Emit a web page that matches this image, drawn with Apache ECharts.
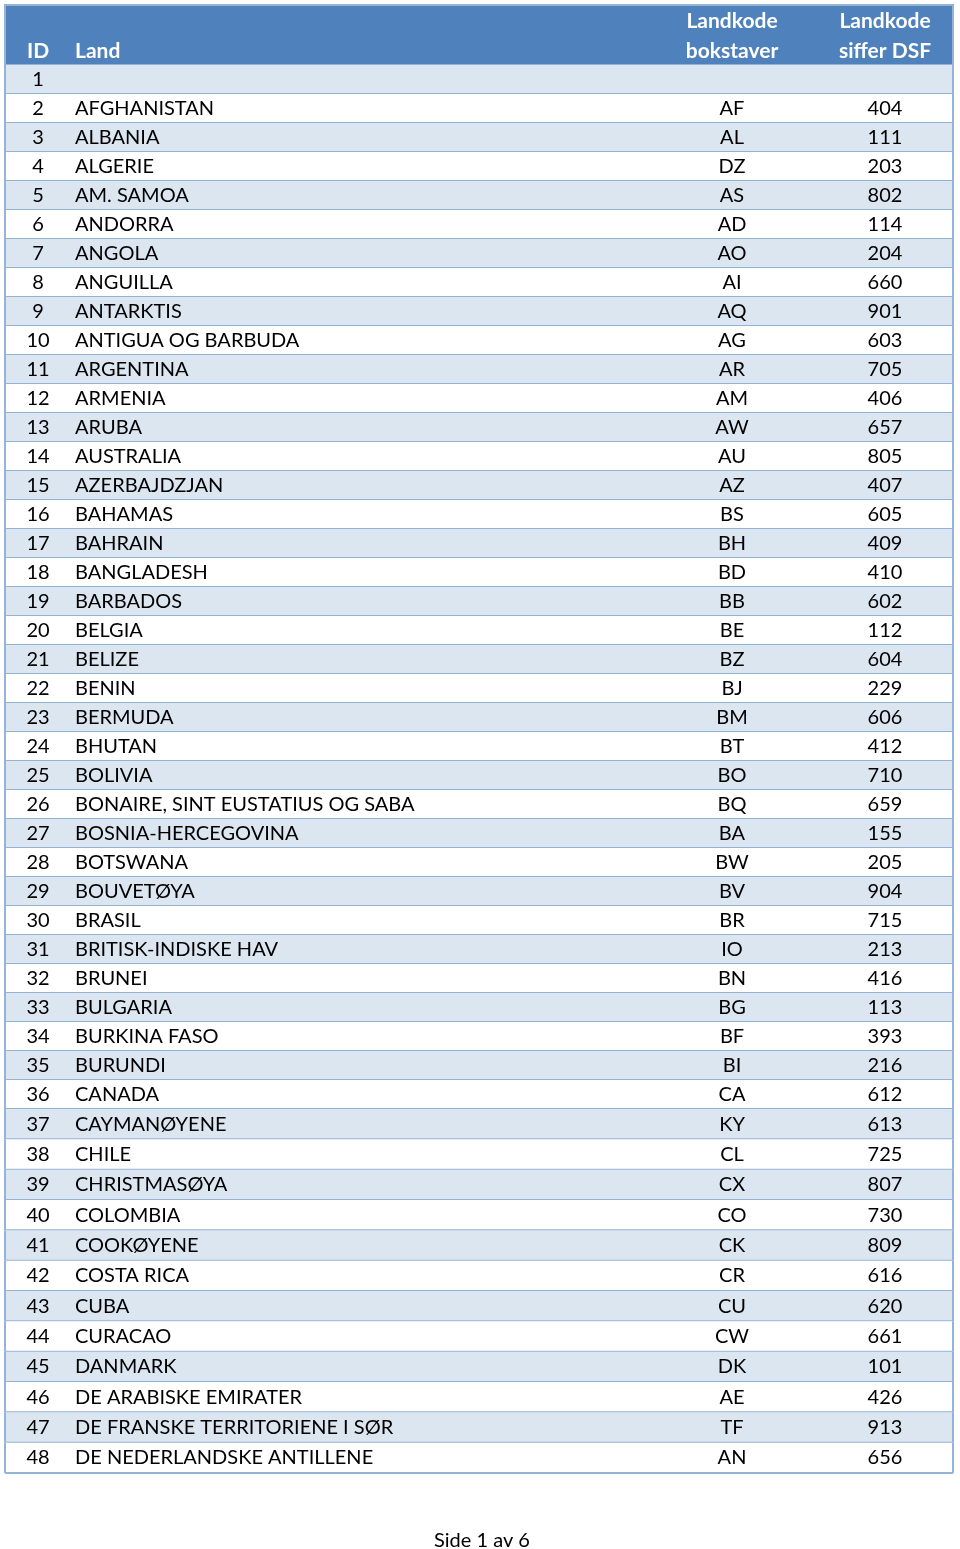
<!DOCTYPE html>
<html><head><meta charset="utf-8">
<script src="https://cdn.jsdelivr.net/npm/echarts@6/dist/echarts.min.js"></script>
<style>html,body{margin:0;padding:0;background:#fff}#c{width:960px;height:1549px}</style>
</head><body><div id="c"></div>
<script>
const ids = [1,2,3,4,5,6,7,8,9,10,11,12,13,14,15,16,17,18,19,20,21,22,23,24,25,26,27,28,29,30,31,32,33,34,35,36,37,38,39,40,41,42,43,44,45,46,47,48];
const lands = ["", "AFGHANISTAN","ALBANIA","ALGERIE","AM. SAMOA","ANDORRA","ANGOLA","ANGUILLA","ANTARKTIS","ANTIGUA OG BARBUDA","ARGENTINA","ARMENIA","ARUBA","AUSTRALIA","AZERBAJDZJAN","BAHAMAS","BAHRAIN","BANGLADESH","BARBADOS","BELGIA","BELIZE","BENIN","BERMUDA","BHUTAN","BOLIVIA","BONAIRE, SINT EUSTATIUS OG SABA","BOSNIA-HERCEGOVINA","BOTSWANA","BOUVETØYA","BRASIL","BRITISK-INDISKE HAV","BRUNEI","BULGARIA","BURKINA FASO","BURUNDI","CANADA","CAYMANØYENE","CHILE","CHRISTMASØYA","COLOMBIA","COOKØYENE","COSTA RICA","CUBA","CURACAO","DANMARK","DE ARABISKE EMIRATER","DE FRANSKE TERRITORIENE I SØR","DE NEDERLANDSKE ANTILLENE"];
const codes = ["", "AF","AL","DZ","AS","AD","AO","AI","AQ","AG","AR","AM","AW","AU","AZ","BS","BH","BD","BB","BE","BZ","BJ","BM","BT","BO","BQ","BA","BW","BV","BR","IO","BN","BG","BF","BI","CA","KY","CL","CX","CO","CK","CR","CU","CW","DK","AE","TF","AN"];
const dsf = ["", "404","111","203","802","114","204","660","901","603","705","406","657","805","407","605","409","410","602","112","604","229","606","412","710","659","155","205","904","715","213","416","113","393","216","612","613","725","807","730","809","616","620","661","101","426","913","656"];
const headers = ["ID","Land","Landkode\nbokstaver","Landkode\nsiffer DSF"];
const footer = "Side 1 av 6";

const FONT = 'Lato';
const splitAt = 36;
const chart = echarts.init(document.getElementById('c'));

function makeRender(offset){
  return function(params, api){
    const i = offset + params.dataIndex;
    const cs = params.coordSys;
    const c = api.coord([0, api.value(1)]);
    const h = api.size([0,1])[1];
    const top = c[1] - h/2;
    const x0 = cs.x, w = cs.width;
    const cy = c[1];
    const ts = {fill:'#000', font: '20px ' + FONT, textVerticalAlign:'middle'};
    return {type:'group', children:[
      {type:'rect', shape:{x:x0, y:top, width:w, height:h}, style:{fill: (ids[i] % 2 === 1) ? '#DCE6F1' : '#FFFFFF'}},
      {type:'line', shape:{x1:x0, y1:top+h, x2:x0+w, y2:top+h}, style:{stroke:'#95B3D7', lineWidth:2}},
      {type:'line', shape:{x1:x0, y1:top, x2:x0, y2:top+h}, style:{stroke:'#95B3D7', lineWidth:2}},
      {type:'line', shape:{x1:x0+w, y1:top, x2:x0+w, y2:top+h}, style:{stroke:'#95B3D7', lineWidth:2}},
      {type:'text', style:Object.assign({text:String(ids[i]), x:x0+33, y:cy, textAlign:'center'}, ts)},
      {type:'text', style:Object.assign({text:lands[i], x:x0+70, y:cy, textAlign:'left'}, ts)},
      {type:'text', style:Object.assign({text:codes[i], x:x0+727, y:cy, textAlign:'center'}, ts)},
      {type:'text', style:Object.assign({text:dsf[i], x:x0+880, y:cy, textAlign:'center'}, ts)}
    ]};
  };
}

const part1 = ids.slice(0, splitAt), part2 = ids.slice(splitAt);
const hdrStyle = {fill:'#fff', font:'bold 21px ' + FONT, textVerticalAlign:'middle'};
const hl = headers.map(s => s.split('\n'));

chart.setOption({
  animation:false,
  grid:[
    {left:5, top:65, width:948, height:1044},
    {left:5, top:1109, width:948, height:364}
  ],
  xAxis:[
    {gridIndex:0, type:'value', min:0, max:1, show:false},
    {gridIndex:1, type:'value', min:0, max:1, show:false}
  ],
  yAxis:[
    {gridIndex:0, type:'category', inverse:true, data:part1.map(String), show:false},
    {gridIndex:1, type:'category', inverse:true, data:part2.map(String), show:false}
  ],
  series:[
    {type:'custom', xAxisIndex:0, yAxisIndex:0, renderItem:makeRender(0), data:part1.map((v,k)=>[0,k])},
    {type:'custom', xAxisIndex:1, yAxisIndex:1, renderItem:makeRender(splitAt), data:part2.map((v,k)=>[0,k])}
  ],
  graphic:[
    {type:'rect', shape:{x:5, y:5, width:948, height:60}, style:{fill:'#4F81BD', stroke:'#95B3D7', lineWidth:2}},
    {type:'text', style:Object.assign({text:hl[0][0], x:38, y:51, textAlign:'center'}, hdrStyle)},
    {type:'text', style:Object.assign({text:hl[1][0], x:75, y:51, textAlign:'left'}, hdrStyle)},
    {type:'text', style:Object.assign({text:hl[2][0], x:732, y:21, textAlign:'center'}, hdrStyle)},
    {type:'text', style:Object.assign({text:hl[2][1], x:732, y:51, textAlign:'center'}, hdrStyle)},
    {type:'text', style:Object.assign({text:hl[3][0], x:885, y:21, textAlign:'center'}, hdrStyle)},
    {type:'text', style:Object.assign({text:hl[3][1], x:885, y:51, textAlign:'center'}, hdrStyle)},
    {type:'text', style:{text:footer, x:482, y:1541, textAlign:'center', textVerticalAlign:'middle', fill:'#000', font:'20px ' + FONT}}
  ]
});
</script></body></html>
